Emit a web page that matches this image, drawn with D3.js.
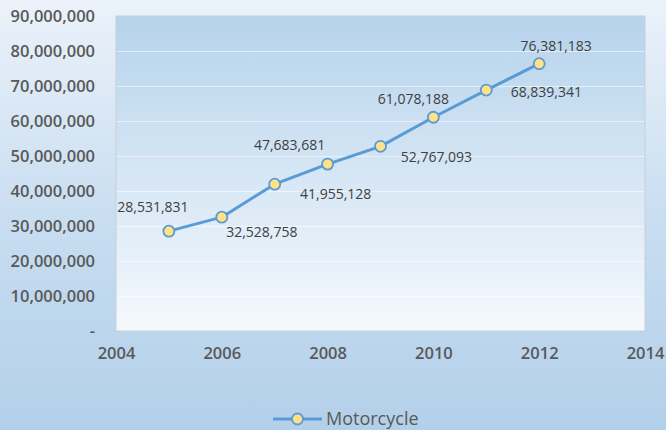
<!DOCTYPE html>
<html><head><meta charset="utf-8">
<script src="https://cdn.jsdelivr.net/npm/d3@7"></script>
<style>html,body{margin:0;padding:0;}svg{display:block;}</style>
</head><body>
<script>
const years = [2005, 2006, 2007, 2008, 2009, 2010, 2011, 2012];
const motorcycle = [28531831, 32528758, 41955128, 47683681, 52767093, 61078188, 68839341, 76381183];
const yTicks = [0, 10000000, 20000000, 30000000, 40000000, 50000000, 60000000, 70000000, 80000000, 90000000];
const xTicks = [2004, 2006, 2008, 2010, 2012, 2014];
const seriesName = "Motorcycle";

const W = 666, H = 430;
const margin = {left: 116, right: 21, top: 16, bottom: 99};
// label offsets (px) from each point, as placed in the reference
const labelOffsets = [[-16,-24],[40,15],[61,10],[-38,-19],[56,11],[-20,-18],[60,2],[17,-18]];

const svg = d3.select("body").append("svg").attr("width", W).attr("height", H);
const defs = svg.append("defs");
const og = defs.append("linearGradient").attr("id","outerG").attr("x1",0).attr("y1",0).attr("x2",0).attr("y2",1);
og.append("stop").attr("offset","0%").attr("stop-color","#ebf2fa");
og.append("stop").attr("offset","55%").attr("stop-color","#c6dcf0");
og.append("stop").attr("offset","100%").attr("stop-color","#b3d0ea");
const pg = defs.append("linearGradient").attr("id","plotG").attr("x1",0).attr("y1",0).attr("x2",0).attr("y2",1);
pg.append("stop").attr("offset","0%").attr("stop-color","#b6d3ec");
pg.append("stop").attr("offset","100%").attr("stop-color","#f5f9fd");

svg.append("rect").attr("width",W).attr("height",H).attr("fill","url(#outerG)");

const x = d3.scaleLinear().domain([2004, 2014]).range([margin.left, W - margin.right]);
const y = d3.scaleLinear().domain([0, 90000000]).range([H - margin.bottom, margin.top]);

svg.append("rect").attr("x", x(2004)).attr("y", y(90000000))
  .attr("width", x(2014)-x(2004)).attr("height", y(0)-y(90000000))
  .attr("fill","url(#plotG)").attr("stroke","#c8cfd6").attr("stroke-width",1);

// gridlines
svg.append("g").selectAll("line").data(yTicks.filter(d=>d>0 && d<90000000)).join("line")
  .attr("x1", x(2004)+1).attr("x2", x(2014)-1)
  .attr("y1", d=>Math.round(y(d))+0.5).attr("y2", d=>Math.round(y(d))+0.5)
  .attr("stroke","rgba(255,255,255,0.55)").attr("stroke-width",1);

const fmt = d3.format(",");
const tickFont = "'Open Sans', 'Liberation Sans', Arial, sans-serif";

const yAxis = d3.axisLeft(y).tickValues(yTicks).tickSize(0).tickPadding(0)
  .tickFormat(d => d === 0 ? "-" : fmt(d));
const gy = svg.append("g").attr("transform", `translate(${95},0)`).call(yAxis);
gy.select(".domain").remove();
gy.selectAll("text").attr("font-family", tickFont).attr("font-size", 16.5).attr("fill","#595959").attr("font-weight","600").attr("dy","0.35em");

const xAxis = d3.axisBottom(x).tickValues(xTicks).tickSize(0).tickPadding(0).tickFormat(d3.format("d"));
const gx = svg.append("g").attr("transform", `translate(0,${y(0)+16})`).call(xAxis);
gx.select(".domain").remove();
gx.selectAll("text").attr("font-family", tickFont).attr("font-size", 16.5).attr("fill","#595959").attr("font-weight","600");

const pts = years.map((yr,i)=>({yr, v: motorcycle[i], i}));
const line = d3.line().x(d=>x(d.yr)).y(d=>y(d.v));
svg.append("path").datum(pts).attr("d", line).attr("fill","none")
  .attr("stroke","#5b9bd5").attr("stroke-width",3).attr("stroke-linejoin","round");

svg.append("g").selectAll("circle").data(pts).join("circle")
  .attr("cx", d=>x(d.yr)).attr("cy", d=>y(d.v)).attr("r", 5.5)
  .attr("fill","#ffe285").attr("stroke","#5b9bd5").attr("stroke-width",1.8);

svg.append("g").selectAll("text").data(pts).join("text")
  .attr("x", d=>x(d.yr)+labelOffsets[d.i][0]).attr("y", d=>y(d.v)+labelOffsets[d.i][1])
  .attr("text-anchor","middle").attr("dy","0.35em")
  .attr("font-family", tickFont).attr("font-size", 14).attr("fill","#404040")
  .text(d=>fmt(d.v));

// legend
const lg = svg.append("g").attr("transform","translate(273,419)");
lg.append("line").attr("x1",0).attr("x2",49).attr("y1",0).attr("y2",0).attr("stroke","#5b9bd5").attr("stroke-width",3);
lg.append("circle").attr("cx",24.5).attr("cy",0).attr("r",5.5).attr("fill","#ffe285").attr("stroke","#5b9bd5").attr("stroke-width",1.8);
lg.append("text").attr("x",53).attr("y",0).attr("dy","0.35em").attr("font-family",tickFont).attr("font-size",18).attr("fill","#595959").text(seriesName);
</script>
</body></html>
